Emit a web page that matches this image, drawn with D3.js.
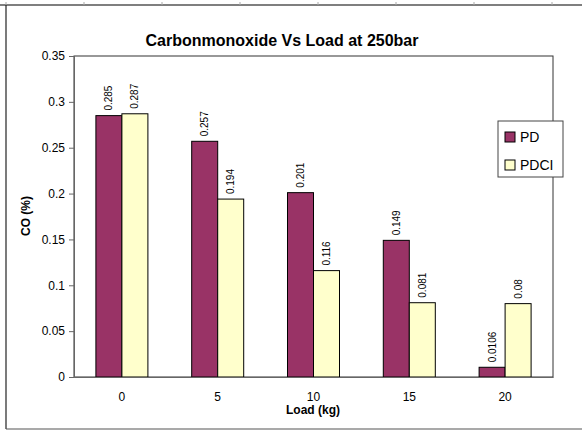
<!DOCTYPE html>
<html>
<head>
<meta charset="utf-8">
<style>
body { margin: 0; background: #fff; }
text { font-family: Arial, "Liberation Sans", sans-serif; fill: #000; }
</style>
</head>
<body>
<script src="https://cdn.jsdelivr.net/npm/d3@7/dist/d3.min.js"></script>
<script>

// data
var loads = ["0", "5", "10", "15", "20"];
var seriesNames = ["PD", "PDCI"];
var pd = [0.285, 0.257, 0.201, 0.149, 0.0106];
var pdci = [0.287, 0.194, 0.116, 0.081, 0.08];
var yTicks = [0, 0.05, 0.1, 0.15, 0.2, 0.25, 0.3, 0.35];

var colors = {PD: "#993366", PDCI: "#FFFFCC"};

var width = 582, height = 430;
var margin = {left: 74, top: 56, right: 553, bottom: 377};

var svg = d3.select("body").append("svg")
    .attr("width", width)
    .attr("height", height);

// outer frame like the sheet edge
var frame = svg.append("g");
frame.append("line").attr("x1", 0).attr("x2", width).attr("y1", 5).attr("y2", 5)
    .attr("stroke", "#555").attr("stroke-width", 1.5);
frame.append("line").attr("x1", 6).attr("x2", 6).attr("y1", 5).attr("y2", 429)
    .attr("stroke", "#222").attr("stroke-width", 1.2);
frame.append("line").attr("x1", 6).attr("x2", width).attr("y1", 429).attr("y2", 429)
    .attr("stroke", "#555").attr("stroke-width", 1.2);
d3.range(6, width, 78).forEach(function(x) {
  frame.append("line").attr("x1", x).attr("x2", x).attr("y1", 2).attr("y2", 5)
      .attr("stroke", "#aaa");
});

var x0 = d3.scaleBand()
    .domain(loads)
    .range([margin.left, margin.right]);

var x1 = d3.scaleBand()
    .domain(seriesNames)
    .range([0, 52]);

var y = d3.scaleLinear()
    .domain([0, 0.35])
    .range([margin.bottom, margin.top]);

// plot area box
svg.append("rect")
    .attr("x", margin.left)
    .attr("y", margin.top)
    .attr("width", margin.right - margin.left)
    .attr("height", margin.bottom - margin.top)
    .attr("fill", "#fff")
    .attr("stroke", "#333")
    .attr("stroke-width", 1);

var rows = loads.map(function(l, i) {
  return {load: l, values: [{name: "PD", v: pd[i]}, {name: "PDCI", v: pdci[i]}]};
});

var groups = svg.selectAll(".grp")
    .data(rows)
    .enter().append("g")
    .attr("class", "grp")
    .attr("transform", function(d) {
      return "translate(" + (x0(d.load) + (x0.bandwidth() - 52) / 2) + ",0)";
    });

groups.selectAll("rect")
    .data(function(d) { return d.values; })
    .enter().append("rect")
    .attr("x", function(d) { return x1(d.name); })
    .attr("y", function(d) { return y(d.v); })
    .attr("width", x1.bandwidth())
    .attr("height", function(d) { return y(0) - y(d.v); })
    .attr("fill", function(d) { return colors[d.name]; })
    .attr("stroke", "#000")
    .attr("stroke-width", 1);

// value labels, rotated
groups.selectAll("text")
    .data(function(d) { return d.values; })
    .enter().append("text")
    .attr("transform", function(d) {
      return "translate(" + (x1(d.name) + x1.bandwidth() / 2 + 3.5) + "," + (y(d.v) - 5) + ") rotate(-90)";
    })
    .style("font-size", "10px")
    .text(function(d) { return d.v; });

// y axis
var yAxis = svg.append("g")
    .attr("transform", "translate(" + margin.left + ",0)")
    .call(d3.axisLeft(y).tickValues(yTicks).tickSize(5).tickPadding(4)
      .tickFormat(function(d) { return d3.format("")(+d.toFixed(2)); }));
yAxis.selectAll("path, line").attr("stroke", "#666");
yAxis.selectAll("text").style("font-size", "12px").style("font-family", "Arial, 'Liberation Sans', sans-serif");

// x axis
var xAxis = svg.append("g")
    .attr("transform", "translate(0," + margin.bottom + ")")
    .call(d3.axisBottom(x0).tickSize(0).tickPadding(15));
xAxis.selectAll("path").attr("stroke", "#666");
xAxis.selectAll("text").style("font-size", "12px").style("font-family", "Arial, 'Liberation Sans', sans-serif");

// titles
svg.append("text")
    .attr("x", 282)
    .attr("y", 46)
    .attr("text-anchor", "middle")
    .style("font-size", "16px")
    .style("font-weight", "bold")
    .text("Carbonmonoxide Vs Load at 250bar");

svg.append("text")
    .attr("x", 313)
    .attr("y", 414)
    .attr("text-anchor", "middle")
    .style("font-size", "12px")
    .style("font-weight", "bold")
    .text("Load (kg)");

svg.append("text")
    .attr("transform", "translate(30,216) rotate(-90)")
    .attr("text-anchor", "middle")
    .style("font-size", "12px")
    .style("font-weight", "bold")
    .text("CO (%)");

// legend
var legend = svg.append("g").attr("transform", "translate(498,121)");
legend.append("rect")
    .attr("width", 65).attr("height", 56)
    .attr("fill", "#fff").attr("stroke", "#444");
seriesNames.forEach(function(s, i) {
  legend.append("rect")
      .attr("x", 7).attr("y", 11 + i * 28)
      .attr("width", 10).attr("height", 10)
      .attr("fill", colors[s]).attr("stroke", "#000");
  legend.append("text")
      .attr("x", 22).attr("y", 21 + i * 28)
      .style("font-size", "14px")
      .text(s);
});

</script>
</body>
</html>
